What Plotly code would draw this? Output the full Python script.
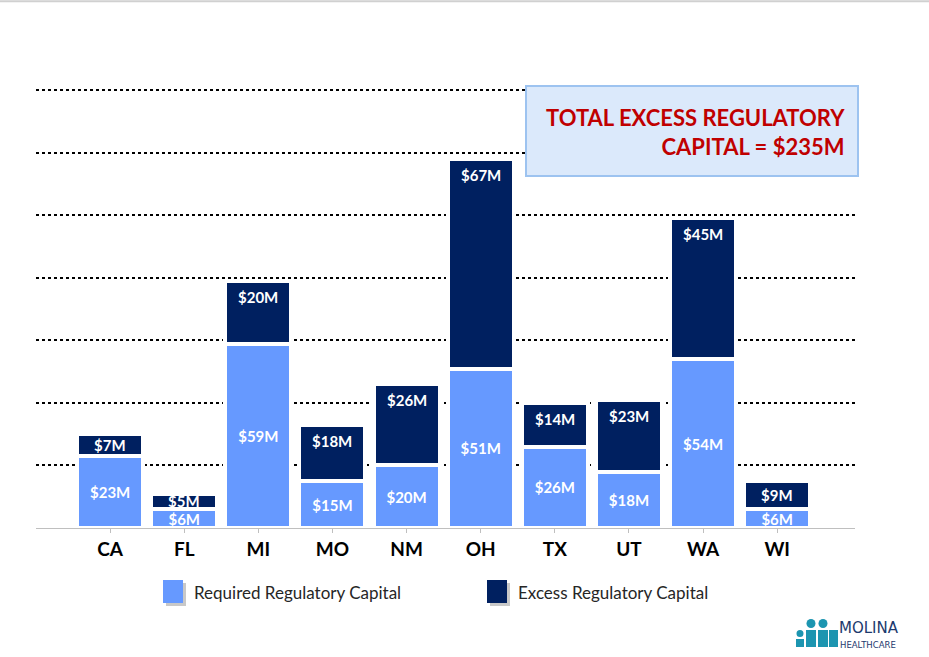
import plotly.graph_objects as go

states = ["CA", "FL", "MI", "MO", "NM", "OH", "TX", "UT", "WA", "WI"]
required = [23, 6, 59, 15, 20, 51, 26, 18, 54, 6]
excess = [7, 5, 20, 18, 26, 67, 14, 23, 45, 9]
total_excess = 235

LIGHT = "#6699FF"
NAVY = "#002060"
FONT = "Lato"

fig = go.Figure()
fig.add_trace(go.Bar(
    x=states, y=required, name="Required Regulatory Capital",
    marker=dict(color=LIGHT, line=dict(color="white", width=4)),
    width=0.89,
    text=[f"${v}M" for v in required], textposition="inside",
    insidetextanchor="middle", constraintext="none",
    textfont=dict(family=FONT, size=15, color="white", weight="bold"),
    hoverinfo="skip", showlegend=False,
))
fig.add_trace(go.Bar(
    x=states, y=excess, name="Excess Regulatory Capital",
    marker=dict(color=NAVY, line=dict(color="white", width=4)),
    width=0.89,
    hoverinfo="skip", showlegend=False,
))

annotations = []
# excess labels: small segments centred, tall ones near the top
for s, r, e in zip(states, required, excess):
    if e < 12:
        annotations.append(dict(x=s, y=r + e / 2, xref="x", yref="y", showarrow=False,
                                yanchor="middle", text=f"${e}M",
                                font=dict(family=FONT, size=15, color="white", weight="bold")))
    else:
        annotations.append(dict(x=s, y=r + e, xref="x", yref="y", showarrow=False,
                                yanchor="top", yshift=-5, text=f"${e}M",
                                font=dict(family=FONT, size=15, color="white", weight="bold")))

shapes = [
    dict(type="line", xref="paper", yref="paper", x0=-0.05, x1=1.2, y0=1.2, y1=1.2,
         line=dict(color="#d0d0d0", width=2)),
]

def px_to_paper_x(px):
    return (px - 36) / (855 - 36)
def px_to_paper_y(py):
    return (528 - py) / (528 - 89)

# callout box
shapes.append(dict(type="rect", xref="paper", yref="paper",
                   x0=px_to_paper_x(526), x1=px_to_paper_x(858),
                   y0=px_to_paper_y(176), y1=px_to_paper_y(86),
                   fillcolor="#DBE9FB", line=dict(color="#9DC3F0", width=2), layer="above"))
annotations.append(dict(xref="paper", yref="paper", x=px_to_paper_x(847), y=px_to_paper_y(132),
                        xanchor="right", yanchor="middle", align="right", showarrow=False,
                        text=f"TOTAL EXCESS REGULATORY<br>CAPITAL = ${total_excess}M",
                        font=dict(family=FONT, size=22, color="#C00000", weight="bold")))

# legend
for sx, color, label in [(163, LIGHT, "Required Regulatory Capital"),
                         (487, NAVY, "Excess Regulatory Capital")]:
    shapes.append(dict(type="rect", xref="paper", yref="paper",
                       x0=px_to_paper_x(sx + 3), x1=px_to_paper_x(sx + 23),
                       y0=px_to_paper_y(606), y1=px_to_paper_y(583),
                       fillcolor="#C8C8C8", line=dict(width=0)))
    shapes.append(dict(type="rect", xref="paper", yref="paper",
                       x0=px_to_paper_x(sx), x1=px_to_paper_x(sx + 20),
                       y0=px_to_paper_y(603), y1=px_to_paper_y(580),
                       fillcolor=color, line=dict(width=0)))
    annotations.append(dict(xref="paper", yref="paper", x=px_to_paper_x(sx + 29),
                            y=px_to_paper_y(592), xanchor="left", yanchor="middle",
                            showarrow=False, text=label,
                            font=dict(family=FONT, size=17, color="#262626")))

# logo
TEAL = "#1C95B0"
for cx, r, top in [(800, 3.5, 630), (811, 4.5, 619), (823, 4.5, 619)]:
    shapes.append(dict(type="circle", xref="paper", yref="paper",
                       x0=px_to_paper_x(cx - r), x1=px_to_paper_x(cx + r),
                       y0=px_to_paper_y(top + 2 * r), y1=px_to_paper_y(top),
                       fillcolor=TEAL, line=dict(width=0)))
for bx0, bx1, btop in [(796, 804, 639), (806, 816, 630), (818, 828, 630), (829, 838, 630)]:
    shapes.append(dict(type="rect", xref="paper", yref="paper",
                       x0=px_to_paper_x(bx0), x1=px_to_paper_x(bx1),
                       y0=px_to_paper_y(647), y1=px_to_paper_y(btop),
                       fillcolor=TEAL, line=dict(width=0)))
annotations.append(dict(xref="paper", yref="paper", x=px_to_paper_x(838), y=px_to_paper_y(638),
                        xanchor="left", yanchor="bottom", showarrow=False, text="MOLINA",
                        borderpad=0, font=dict(family="DejaVu Sans", size=15, color="#1D3A6E")))
annotations.append(dict(xref="paper", yref="paper", x=px_to_paper_x(839), y=px_to_paper_y(639),
                        xanchor="left", yanchor="top", showarrow=False, text="HEALTHCARE",
                        borderpad=0, font=dict(family="DejaVu Sans", size=8.5, color="#1D3A6E")))

fig.update_layout(
    barmode="stack",
    width=929, height=657,
    margin=dict(l=36, r=74, t=89, b=129),
    paper_bgcolor="white", plot_bgcolor="white",
    shapes=shapes, annotations=annotations,
    xaxis=dict(range=[-1, 10.05], showgrid=False, showline=True, linecolor="#BFBFBF",
               linewidth=1, ticks="outside", tickcolor="#BFBFBF", ticklen=4,
               tickfont=dict(family=FONT, size=19, color="black", weight="bold"),
               fixedrange=True),
    yaxis=dict(range=[0, 140.4], tickvals=[20, 40, 60, 80, 100, 120, 140], showgrid=True,
               griddash="dot", gridcolor="black", gridwidth=1.5, showticklabels=False,
               zeroline=False, showline=False, fixedrange=True),
)

fig.write_html("out.html", post_script="document.body.style.margin='0';",
               config={"displayModeBar": False})
